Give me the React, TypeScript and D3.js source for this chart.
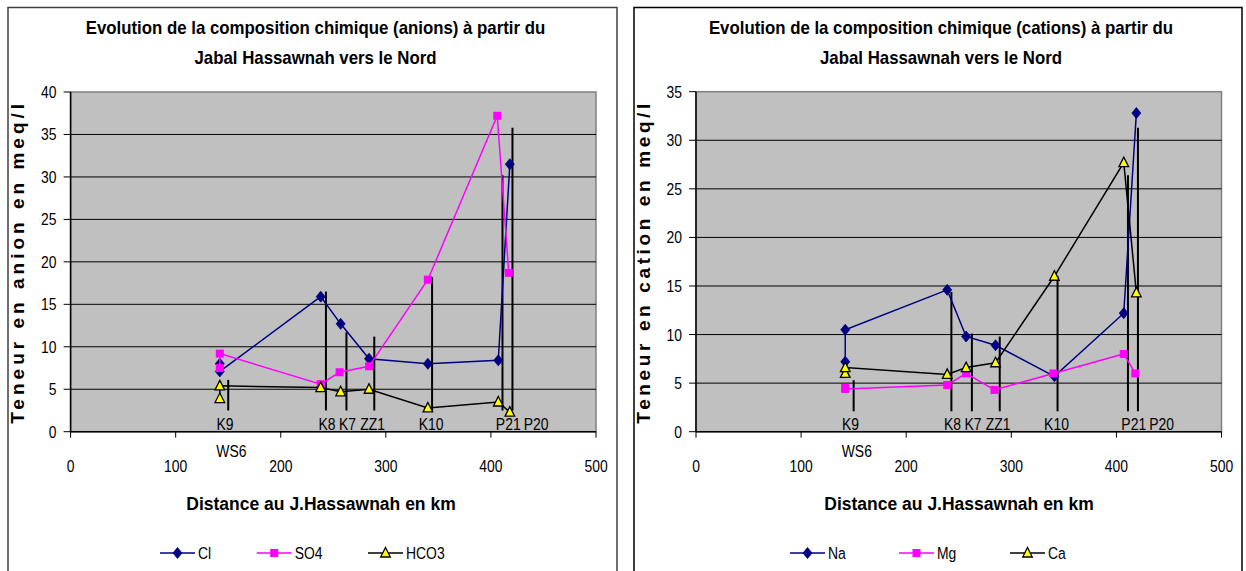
import React from "react";
import * as d3 from "d3";

// ---------- DATA ----------
const xTicks = [0, 100, 200, 300, 400, 500];
const anionTicks = [0, 5, 10, 15, 20, 25, 30, 35, 40];
const cationTicks = [0, 5, 10, 15, 20, 25, 30, 35];

// [distance km, meq/l]
const clValues: [number, number][] = [[142, 8.0], [142, 7.1], [238, 15.9], [257, 12.7], [284, 8.6], [340, 8.0], [407, 8.4], [418, 31.5]];
const so4Values: [number, number][] = [[142, 7.5], [142, 9.2], [238, 5.6], [256, 7.0], [284, 7.7], [340, 17.9], [406, 37.2], [417, 18.7]];
const hco3Values: [number, number][] = [[142, 3.9], [142, 5.4], [238, 5.2], [257, 4.7], [284, 5.0], [340, 2.8], [407, 3.5], [418, 2.3]];

const naValues: [number, number][] = [[142, 7.2], [142, 10.5], [239, 14.6], [257, 9.8], [285, 8.9], [341, 5.7], [407, 12.2], [419, 32.8]];
const mgValues: [number, number][] = [[142, 4.5], [142, 4.4], [239, 4.8], [257, 6.0], [284, 4.3], [340, 6.0], [407, 8.0], [418, 6.0]];
const caValues: [number, number][] = [[142, 6.0], [142, 6.6], [239, 5.9], [257, 6.6], [285, 7.1], [341, 16.0], [407, 27.7], [419, 14.3]];

const wellNames = ["K9", "K8", "K7", "ZZ1", "K10", "P21", "P20"];
const wellLabelKm = [147, 244, 263.5, 287.5, 343, 416.5, 443];
const wellLineKm = [150, 243, 262.5, 289, 344, 411, 420.5];
const anionLineTop = [6.1, 16.5, 11.7, 11.2, 18.2, 30.2, 35.8];
const cationLineTop = [5.3, 14.4, 10.1, 9.8, 16.0, 26.4, 31.3];
const anionLineBottom = 2.5;
const cationLineBottom = 2.1;
const extraWell = "WS6";
const extraWellKm = 153;

// ---------- STYLE ----------
const FONT = '"Liberation Sans", Arial, sans-serif';
const NAVY = "#000080";
const MAGENTA = "#FF00FF";
const NARROW_SCALE = 0.82;

type Marker = "diamond" | "square" | "triangle";
type Series = { name: string; values: [number, number][]; color: string; marker: Marker };

function NText({ x, y, sx = NARROW_SCALE, anchor = "start", size = 17, bold = false, children }: any) {
  return (
    <g transform={`translate(${x},${y}) scale(${sx},1)`}>
      <text x={0} y={0} textAnchor={anchor} fontFamily={FONT} fontSize={size} fontWeight={bold ? "bold" : "normal"}>{children}</text>
    </g>
  );
}

function MarkerShape({ kind, x, y }: { kind: Marker; x: number; y: number }) {
  if (kind === "diamond")
    return <path d="M0,-5.5L4.5,0L0,5.5L-4.5,0Z" transform={`translate(${x},${y})`} fill={NAVY} stroke={NAVY} strokeWidth={0.8} />;
  if (kind === "square")
    return <rect x={x - 4} y={y - 4} width={8} height={8} fill={MAGENTA} />;
  return <path d="M0,-5.5L4.8,4L-4.8,4Z" transform={`translate(${x},${y})`} fill="#FFFF00" stroke="#000" strokeWidth={1.3} />;
}

type ChartProps = {
  box: { x: number; y: number; w: number; h: number };
  plot: { l: number; r: number; t: number; b: number };
  yTicks: number[];
  title1: string;
  title2: string;
  yTitle: string;
  xTitleX: number;
  series: Series[];
  lineTops: number[];
  lineBottom: number;
  legendX: number[];
  borderColor: string;
};

function Chart(p: ChartProps) {
  const { box, plot } = p;
  const x = d3.scaleLinear().domain([0, 500]).range([plot.l, plot.r]);
  const yMax = d3.max(p.yTicks) as number;
  const y = d3.scaleLinear().domain([0, yMax]).range([plot.b, plot.t]);
  const line = d3.line<[number, number]>().x((d) => x(d[0])).y((d) => y(d[1]));
  const cx = (box.x + box.x + box.w) / 2 + 3;
  const legendY = 553;
  return (
    <g>
      <rect x={box.x} y={box.y} width={box.w} height={box.h} fill="#fff" stroke={p.borderColor} strokeWidth={1.5} />
      <NText x={cx} y={34} sx={0.935} anchor="middle" size={18} bold>{p.title1}</NText>
      <NText x={cx} y={64} sx={0.935} anchor="middle" size={18} bold>{p.title2}</NText>
      {/* plot area */}
      <rect x={plot.l} y={plot.t} width={plot.r - plot.l} height={plot.b - plot.t} fill="#C0C0C0" stroke="#808080" strokeWidth={1.5} />
      {p.yTicks.filter((t) => t > 0 && t < yMax).map((t) => (
        <line key={t} x1={plot.l} x2={plot.r} y1={y(t)} y2={y(t)} stroke="#000" strokeWidth={1} />
      ))}
      {/* axes */}
      <line x1={plot.l} x2={plot.l} y1={plot.t} y2={plot.b} stroke="#000" strokeWidth={1.5} />
      <line x1={plot.l} x2={plot.r} y1={plot.b} y2={plot.b} stroke="#000" strokeWidth={1.5} />
      {p.yTicks.map((t) => (
        <g key={t}>
          <line x1={plot.l - 7} x2={plot.l} y1={y(t)} y2={y(t)} stroke="#000" strokeWidth={1} />
          <NText x={plot.l - 14} y={y(t) + 6} anchor="end">{t}</NText>
        </g>
      ))}
      {xTicks.map((t) => (
        <g key={t}>
          <line x1={x(t)} x2={x(t)} y1={plot.b} y2={plot.b + 6} stroke="#000" strokeWidth={1} />
          <NText x={x(t)} y={plot.b + 40} anchor="middle">{t}</NText>
        </g>
      ))}
      {/* well leader lines */}
      {wellLineKm.map((k, i) => (
        <line key={i} x1={x(k)} x2={x(k)} y1={y(p.lineTops[i])} y2={y(p.lineBottom)} stroke="#000" strokeWidth={2} />
      ))}
      {/* series */}
      {p.series.map((s) => (
        <g key={s.name}>
          <path d={line(s.values) || ""} fill="none" stroke={s.color} strokeWidth={1.5} />
          {s.values.map((v, i) => (
            <MarkerShape key={i} kind={s.marker} x={x(v[0])} y={y(v[1])} />
          ))}
        </g>
      ))}
      {/* well labels */}
      {wellNames.map((n, i) => (
        <NText key={n} x={x(wellLabelKm[i])} y={plot.b - 2} anchor="middle">{n}</NText>
      ))}
      <NText x={x(extraWellKm)} y={plot.b + 25} anchor="middle">{extraWell}</NText>
      {/* axis titles */}
      <text transform={`translate(${box.x + 16},${(plot.t + plot.b) / 2 + 2}) rotate(-90)`} textAnchor="middle" fontFamily={FONT} fontWeight="bold" fontSize={19} textLength={320} lengthAdjust="spacing">{p.yTitle}</text>
      <text x={p.xTitleX} y={510} textAnchor="middle" fontFamily={FONT} fontWeight="bold" fontSize={17.5}>Distance au J.Hassawnah en km</text>
      {/* legend */}
      {p.series.map((s, i) => (
        <g key={s.name}>
          <line x1={p.legendX[i]} x2={p.legendX[i] + 35} y1={legendY} y2={legendY} stroke={s.color} strokeWidth={1.5} />
          <MarkerShape kind={s.marker} x={p.legendX[i] + 17.5} y={legendY} />
          <NText x={p.legendX[i] + 38} y={legendY + 6}>{s.name}</NText>
        </g>
      ))}
    </g>
  );
}

export default function App() {
  const anionSeries: Series[] = [
    { name: "Cl", values: clValues, color: NAVY, marker: "diamond" },
    { name: "SO4", values: so4Values, color: MAGENTA, marker: "square" },
    { name: "HCO3", values: hco3Values, color: "#000", marker: "triangle" },
  ];
  const cationSeries: Series[] = [
    { name: "Na", values: naValues, color: NAVY, marker: "diamond" },
    { name: "Mg", values: mgValues, color: MAGENTA, marker: "square" },
    { name: "Ca", values: caValues, color: "#000", marker: "triangle" },
  ];
  return (
    <svg width={1246} height={571} style={{ position: "absolute", left: 0, top: 0, background: "#fff" }}>
      <Chart
        box={{ x: 8, y: 7.5, w: 609, h: 580 }}
        plot={{ l: 70.6, r: 596, t: 92, b: 431.7 }}
        yTicks={anionTicks}
        title1="Evolution de la composition chimique (anions) à partir du"
        title2="Jabal Hassawnah vers le Nord"
        yTitle="Teneur en anion en meq/l"
        xTitleX={321}
        series={anionSeries}
        lineTops={anionLineTop}
        lineBottom={anionLineBottom}
        legendX={[160, 256.7, 368]}
        borderColor="#404040"
      />
      <Chart
        box={{ x: 634, y: 7.5, w: 608, h: 580 }}
        plot={{ l: 696, r: 1221.5, t: 91.7, b: 431.7 }}
        yTicks={cationTicks}
        title1="Evolution de la composition chimique (cations) à partir du"
        title2="Jabal Hassawnah vers le Nord"
        yTitle="Teneur en cation en meq/l"
        xTitleX={959}
        series={cationSeries}
        lineTops={cationLineTop}
        lineBottom={cationLineBottom}
        legendX={[790, 899, 1010]}
        borderColor="#000"
      />
    </svg>
  );
}
